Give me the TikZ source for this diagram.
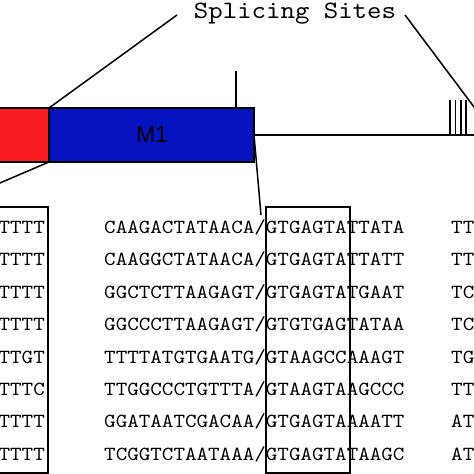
\documentclass[tikz,border=0pt]{standalone}
\usepackage{fontspec}
\usepackage{tikz}
\usetikzlibrary{calc,positioning}
\newfontfamily\seqfont{lmmono10-regular.otf}[FakeStretch=1.1]
\newfontfamily\labelfont{Liberation Sans}
\definecolor{exonred}{RGB}{250,28,34}
\definecolor{exonblue}{RGB}{6,20,192}
\tikzset{
    exon/.style={draw=black, line width=1.5pt, minimum height=54pt, inner sep=0pt, outer sep=0pt},
    seq/.style={font=\fontsize{20}{20}\seqfont, inner sep=0pt},
    link/.style={line width=1.5pt}
}

\begin{document}
\begin{tikzpicture}[x=1pt,y=-1pt]
            \useasboundingbox (0,0) rectangle (474,474);
            \clip (0,0) rectangle (474,474);
            \def\d{32.43}
            \coordinate (s1) at (177,15);
            \coordinate (s2) at (405,15);
            \coordinate (s3) at (480,115);
            \coordinate (c1) at (-6,185.5);
            \coordinate (c2) at (261,215);
            %Label
            \node[font=\fontsize{25}{25}\seqfont, inner sep=0pt, anchor=base] (sites) at (295,18) {Splicing Sites};
            %Exons
            \node[exon, fill=exonred, minimum width=56pt, anchor=north east] (e0) at (49,108) {};
            \node[exon, fill=exonblue, minimum width=205pt, anchor=north west] (m1) at (49,108) {};
            \node[font=\fontsize{23}{23}\labelfont] (m1label) at (152,135) {M1};
            %Intron
            \draw[line width=1.2pt] (m1.east) -- (480,135);
            \draw[line width=1.2pt] ($(m1.north east)+(-18,0)$) -- ++(0,-37);
            \draw[line width=1.5pt] (450,135) -- (450,100);
            \draw[line width=1.5pt] (455.5,135) -- (455.5,100);
            \draw[line width=1.5pt] (461,135) -- (461,100);
            \draw[line width=1.5pt] (466,135) -- (466,100);
            %Connectors
            \draw[link] (s1) -- (m1.north west);
            \draw[link] (s2) -- (s3);
            \draw[link] (m1.south west) -- (c1);
            \draw[link] (m1.east) -- (c2);
            %Boxes
            \draw[line width=1.6pt] (-5,207) rectangle (48,473);
            \draw[line width=1.6pt] (266,207) rectangle (350,473);
            %Sequences
            \node[seq, anchor=base east] (l1) at (45,233.3+0*\d) {TTTT};
            \node[seq, anchor=base east] (l2) at (45,233.3+1*\d) {TTTT};
            \node[seq, anchor=base east] (l3) at (45,233.3+2*\d) {TTTT};
            \node[seq, anchor=base east] (l4) at (45,233.3+3*\d) {TTTT};
            \node[seq, anchor=base east] (l5) at (45,233.3+4*\d) {TTGT};
            \node[seq, anchor=base east] (l6) at (45,233.3+5*\d) {TTTC};
            \node[seq, anchor=base east] (l7) at (45,233.3+6*\d) {TTTT};
            \node[seq, anchor=base east] (l8) at (45,233.3+7*\d) {TTTT};
            \node[seq, anchor=base west] (m1s) at (104,233.3+0*\d) {CAAGACTATAACA/GTGAGTATTATA};
            \node[seq, anchor=base west] (m2s) at (104,233.3+1*\d) {CAAGGCTATAACA/GTGAGTATTATT};
            \node[seq, anchor=base west] (m3s) at (104,233.3+2*\d) {GGCTCTTAAGAGT/GTGAGTATGAAT};
            \node[seq, anchor=base west] (m4s) at (104,233.3+3*\d) {GGCCCTTAAGAGT/GTGTGAGTATAA};
            \node[seq, anchor=base west] (m5s) at (104,233.3+4*\d) {TTTTATGTGAATG/GTAAGCCAAAGT};
            \node[seq, anchor=base west] (m6s) at (104,233.3+5*\d) {TTGGCCCTGTTTA/GTAAGTAAGCCC};
            \node[seq, anchor=base west] (m7s) at (104,233.3+6*\d) {GGATAATCGACAA/GTGAGTAAAATT};
            \node[seq, anchor=base west] (m8s) at (104,233.3+7*\d) {TCGGTCTAATAAA/GTGAGTATAAGC};
            \node[seq, anchor=base west] (r1) at (451,233.3+0*\d) {TT};
            \node[seq, anchor=base west] (r2) at (451,233.3+1*\d) {TT};
            \node[seq, anchor=base west] (r3) at (451,233.3+2*\d) {TC};
            \node[seq, anchor=base west] (r4) at (451,233.3+3*\d) {TC};
            \node[seq, anchor=base west] (r5) at (451,233.3+4*\d) {TG};
            \node[seq, anchor=base west] (r6) at (451,233.3+5*\d) {TT};
            \node[seq, anchor=base west] (r7) at (451,233.3+6*\d) {AT};
            \node[seq, anchor=base west] (r8) at (451,233.3+7*\d) {AT};
        \end{tikzpicture}
\end{document}
